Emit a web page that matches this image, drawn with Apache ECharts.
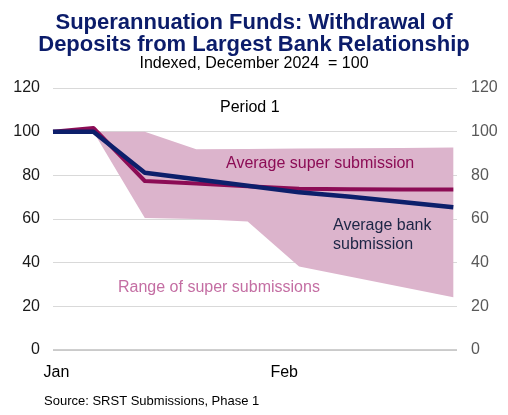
<!DOCTYPE html>
<html>
<head>
<meta charset="utf-8">
<script src="https://cdn.jsdelivr.net/npm/echarts@6/dist/echarts.min.js"></script>
<style>
html,body{margin:0;padding:0;background:#fff;}
#c{width:508px;height:415px;}
</style>
</head>
<body>
<div id="c"></div>
<script>
// Days since 1 January 2025 (weekly observations)
var days = [0, 5.5, 12.5, 19.5, 26.5, 33.5, 40.5, 47.5, 54.5];
var bankAvg = [100, 100, 81.2, 78.2, 75.2, 72.2, 70.2, 67.8, 65.4];
var superAvg = [100, 101.7, 77.4, 76.3, 75.0, 73.8, 73.6, 73.5, 73.5];
var rangeLow = [100, 100, 60.5, 60.0, 58.8, 38.3, 33.6, 28.9, 24.2];
var rangeHigh = [100, 100, 100, 92.0, 92.1, 92.3, 92.4, 92.5, 92.7];
var xTickValues = [0, 31];
var xTickLabels = ['Jan', 'Feb'];
var yTicks = [0, 20, 40, 60, 80, 100, 120];

function pairs(vals) { return days.map(function (d, i) { return [d, vals[i]]; }); }
var bandData = days.map(function (d, i) { return [d, rangeLow[i], rangeHigh[i]]; });

var chart = echarts.init(document.getElementById('c'), null, {renderer: 'canvas'});
var font = 'Liberation Sans, Arial, sans-serif';
chart.setOption({
  animation: false,
  backgroundColor: '#ffffff',
  textStyle: {fontFamily: font},
  title: [{
    text: 'Superannuation Funds: Withdrawal of',
    left: 'center', top: 7,
    textStyle: {fontFamily: font, fontSize: 22, fontWeight: 'bold', color: '#0b1c6a'}
  }, {
    text: 'Deposits from Largest Bank Relationship',
    left: 'center', top: 29,
    textStyle: {fontFamily: font, fontSize: 22, fontWeight: 'bold', color: '#0b1c6a'}
  }, {
    text: 'Indexed, December 2024  = 100',
    left: 'center', top: 51,
    textStyle: {fontFamily: font, fontSize: 16, fontWeight: 'normal', color: '#000000'}
  }],
  grid: {left: 53, right: 51, top: 88, bottom: 65},
  xAxis: {
    type: 'value', min: 0, max: 55, interval: 31,
    axisLine: {show: false},
    axisTick: {show: false},
    splitLine: {show: false},
    axisLabel: {
      fontFamily: font, fontSize: 16, color: '#000000', margin: 15,
      padding: [0, 0, 0, 7],
      showMaxLabel: false,
      formatter: function (v) { var k = xTickValues.indexOf(v); return k >= 0 ? xTickLabels[k] : ''; }
    }
  },
  yAxis: [{
    type: 'value', min: yTicks[0], max: yTicks[yTicks.length - 1], interval: 20, position: 'left',
    axisLine: {show: false}, axisTick: {show: false},
    splitLine: {lineStyle: {color: '#d9d9d9', width: 1}},
    axisLabel: {fontFamily: font, fontSize: 16, color: '#1a1a1a', margin: 13}
  }, {
    type: 'value', min: yTicks[0], max: yTicks[yTicks.length - 1], interval: 20, position: 'right',
    axisLine: {show: false}, axisTick: {show: false},
    splitLine: {show: false},
    axisLabel: {fontFamily: font, fontSize: 16, color: '#595959', margin: 14}
  }],
  series: [{
    type: 'custom', name: 'Range of super submissions', data: bandData,
    encode: {x: 0, y: [1, 2]}, silent: true, z: 1,
    renderItem: function (params, api) {
      if (params.dataIndex !== 0) return null;
      var upper = [], lower = [];
      for (var i = 0; i < bandData.length; i++) {
        upper.push(api.coord([bandData[i][0], bandData[i][2]]));
        lower.unshift(api.coord([bandData[i][0], bandData[i][1]]));
      }
      return {
        type: 'polygon',
        shape: {points: upper.concat(lower)},
        style: {fill: '#dcb4cc', stroke: 'none'}
      };
    }
  }, {
    type: 'line', name: 'Zero line', data: [[0, 0], [55, 0]],
    symbol: 'none', lineStyle: {color: '#bfbfbf', width: 1.5}, silent: true, z: 2
  }, {
    type: 'line', name: 'Average super submission', data: pairs(superAvg),
    symbol: 'none', lineStyle: {color: '#8c0c55', width: 4, join: 'round'}, z: 3
  }, {
    type: 'line', name: 'Average bank submission', data: pairs(bankAvg),
    symbol: 'none', lineStyle: {color: '#0d1f6b', width: 4.5, join: 'round'}, z: 4
  }],
  graphic: [{
    type: 'text', left: 220, top: 100, z: 10,
    style: {text: 'Period 1', fontFamily: font, fontSize: 16, fill: '#000000'}
  }, {
    type: 'text', left: 226, top: 156, z: 10,
    style: {text: 'Average super submission', fontFamily: font, fontSize: 16, fill: '#8c0c55'}
  }, {
    type: 'text', left: 333, top: 216, z: 10,
    style: {text: 'Average bank\nsubmission', fontFamily: font, fontSize: 16, lineHeight: 19, fill: '#1c2545'}
  }, {
    type: 'text', left: 118, top: 280, z: 10,
    style: {text: 'Range of super submissions', fontFamily: font, fontSize: 16, fill: '#c46ea3'}
  }, {
    type: 'text', left: 44, top: 395, z: 10,
    style: {text: 'Source: SRST Submissions, Phase 1', fontFamily: font, fontSize: 13, fill: '#000000'}
  }]
});
</script>
</body>
</html>
